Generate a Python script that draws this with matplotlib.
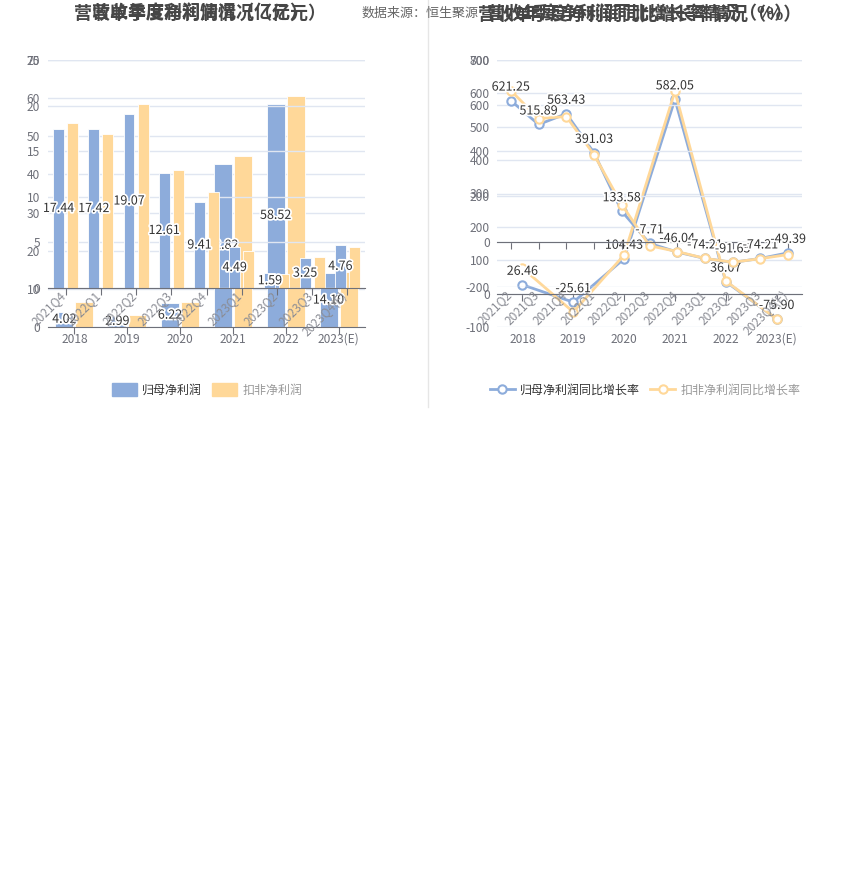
import matplotlib
matplotlib.use('Agg')
import matplotlib.pyplot as plt
import matplotlib.patheffects as pe
from matplotlib.lines import Line2D
from matplotlib.patches import Patch
import numpy as np

plt.rcParams['font.family'] = ['Noto Sans CJK SC', 'DejaVu Sans']

# categories
years = ['2018', '2019', '2020', '2021', '2022', '2023(E)']
quarters_bar = ['2021Q4', '2022Q1', '2022Q2', '2022Q3', '2022Q4',
                '2023Q1', '2023Q2', '2023Q3', '2023Q4(E)']
quarters_line = ['2021Q2', '2021Q3', '2021Q4', '2022Q1', '2022Q2', '2022Q3',
                 '2022Q4', '2023Q1', '2023Q2', '2023Q3', '2023Q4(E)']

# profit (亿元)
profit_year = [4.02, 2.99, 6.22, 42.82, 58.52, 14.10]
deducted_year = [6.55, 3.15, 6.55, 44.8, 60.6, 14.5]
profit_q = [17.44, 17.42, 19.07, 12.61, 9.41, 4.49, 1.59, 3.25, 4.76]
deducted_q = [18.1, 16.9, 20.2, 12.9, 10.5, 4.05, 1.5, 3.4, 4.5]

# growth (%)
growth_year = [26.46, -25.61, 104.43, 582.05, 36.07, -75.90]
deducted_growth_year = [76.6, -55.0, 115.6, 606.0, 38.0, -76.0]
growth_q = [621.25, 515.89, 563.43, 391.03, 133.58, -7.71, -46.04,
            -74.21, -91.65, -74.21, -49.39]
deducted_growth_q = [665, 542, 551, 383, 163, -18, -44, -74, -91, -75, -57]

BLUE = '#8DACDB'
ORANGE = '#FFD899'
GRID = '#E0E6F1'
AXIS = '#6E7079'
GRAY = '#6E7079'
W, H = 850, 890
PX = 72 / 100  # points per pixel

fig = plt.figure(figsize=(W / 100, H / 100), dpi=100)


def px_axes(x0, y0, x1, y1):
    return fig.add_axes([x0 / W, 1 - y1 / H, (x1 - x0) / W, (y1 - y0) / H])


def style_axes(ax, n, lo, hi, step, pad):
    ax.set_xlim(-0.5, n - 0.5)
    ax.set_ylim(lo, hi)
    ax.patch.set_alpha(0)
    for s in ['top', 'right', 'left']:
        ax.spines[s].set_visible(False)
    ax.spines['bottom'].set_position(('data', 0))
    ax.spines['bottom'].set_color(AXIS)
    ticks = np.arange(lo, hi + step / 2, step)
    ax.set_yticks(ticks)
    ax.set_yticklabels([str(int(t)) for t in ticks])
    ax.tick_params(axis='y', length=0, pad=pad, labelsize=12 * PX, labelcolor=GRAY)
    ax.grid(axis='y', color=GRID, lw=1)
    ax.set_axisbelow(True)
    ax.set_xticks(range(n))
    ax.tick_params(axis='x', length=5, color=AXIS, labelbottom=False)


def year_labels(ax, labels):
    for i, lab in enumerate(labels):
        ax.annotate(lab, xy=(i, 0), xycoords=('data', 'axes fraction'),
                    xytext=(0, -6 * PX), textcoords='offset points',
                    ha='center', va='top', fontsize=12 * PX, color=GRAY)


def quarter_labels(ax, labels):
    for i, lab in enumerate(labels):
        ax.annotate(lab, xy=(i, 0), xycoords=('data', 'axes fraction'),
                    xytext=(3 * PX, -1 * PX), textcoords='offset points',
                    ha='right', va='top', rotation=45, fontsize=12 * PX,
                    color='#8A8C94')


stroke = [pe.withStroke(linewidth=2.5, foreground='white')]

# ---------------- left: profit bars ----------------
ax_y = px_axes(48, 60, 365, 327)
style_axes(ax_y, len(years), 0, 70, 10, 8 * PX)
x = np.arange(len(years))
ax_y.bar(x - 0.19, profit_year, 0.34, color=BLUE, edgecolor='white', lw=0.6)
ax_y.bar(x + 0.19, deducted_year, 0.34, color=ORANGE, edgecolor='white', lw=0.6)
for i, v in enumerate(profit_year):
    ax_y.text(i - 0.19, v / 2, f'{v:.2f}', ha='center', va='center',
              fontsize=12.5 * PX, color='#333333', path_effects=stroke)
year_labels(ax_y, years)

ax_q = px_axes(48, 60, 365, 288)
style_axes(ax_q, len(quarters_bar), 0, 25, 5, 8 * PX)
xq = np.arange(len(quarters_bar))
ax_q.bar(xq - 0.2, profit_q, 0.31, color=BLUE, edgecolor='white', lw=0.6)
ax_q.bar(xq + 0.2, deducted_q, 0.31, color=ORANGE, edgecolor='white', lw=0.6)
for i, v in enumerate(profit_q):
    ax_q.text(i - 0.2, v / 2, f'{v:.2f}', ha='center', va='center',
              fontsize=12.5 * PX, color='#333333', path_effects=stroke)
quarter_labels(ax_q, quarters_bar)

# ---------------- right: growth lines ----------------
line_kw = dict(lw=2, marker='o', markersize=6, markerfacecolor='white',
               markeredgewidth=1.5)

ax_gy = px_axes(497, 60, 802, 327)
style_axes(ax_gy, len(years), -100, 700, 100, 7 * PX)
ax_gy.plot(x, growth_year, color=BLUE, **line_kw)
ax_gy.plot(x, deducted_growth_year, color=ORANGE, **line_kw)
for i, v in enumerate(growth_year):
    ax_gy.annotate(f'{v:.2f}', xy=(i, v), xytext=(0, 7 * PX),
                   textcoords='offset points', ha='center', va='bottom',
                   fontsize=12.5 * PX, color='#333333', path_effects=stroke)
year_labels(ax_gy, years)

ax_gq = px_axes(497, 60, 802, 287)
style_axes(ax_gq, len(quarters_line), -200, 800, 200, 7 * PX)
xl = np.arange(len(quarters_line))
ax_gq.plot(xl, growth_q, color=BLUE, **line_kw)
ax_gq.plot(xl, deducted_growth_q, color=ORANGE, **line_kw)
for i, v in enumerate(growth_q):
    ax_gq.annotate(f'{v:.2f}', xy=(i, v), xytext=(0, 7 * PX),
                   textcoords='offset points', ha='center', va='bottom',
                   fontsize=12.5 * PX, color='#333333', path_effects=stroke)
quarter_labels(ax_gq, quarters_line)

# ---------------- titles, source, legends ----------------
title_kw = dict(ha='center', va='center', fontsize=18 * PX, fontweight='bold',
                color='#464646')
fig.text(362 / W, 1 - 13 / H, '数据来源：恒生聚源', ha='left', va='center',
         fontsize=13 * PX, color='#666666')
fig.text(200 / W, 1 - 14 / H, '营收年度利润情况（亿元）', **title_kw)
fig.text(200 / W, 1 - 14 / H, '营收单季度净利润情况（亿元）', **title_kw)
fig.text(640 / W, 1 - 14 / H, '营收年度净利润同比增长率情况（%）', **title_kw)
fig.text(640 / W, 1 - 14 / H, '营收单季度净利润同比增长率情况（%）', **title_kw)

leg_kw = dict(loc='center', ncol=2, frameon=False, fontsize=12 * PX,
              handletextpad=0.42, columnspacing=0.9)
leg1 = fig.legend([Patch(color=BLUE), Patch(color=ORANGE)],
                  ['归母净利润', '扣非净利润'],
                  bbox_to_anchor=(207 / W, 1 - 390 / H),
                  handlelength=2.08, handleheight=1.17, **leg_kw)
leg2 = fig.legend([Line2D([], [], color=BLUE, **line_kw),
                   Line2D([], [], color=ORANGE, **line_kw)],
                  ['归母净利润同比增长率', '扣非净利润同比增长率'],
                  bbox_to_anchor=(645 / W, 1 - 390 / H),
                  handlelength=2.08, **leg_kw)
for leg in (leg1, leg2):
    leg.get_texts()[0].set_color('#333333')
    leg.get_texts()[1].set_color('#999999')

fig.add_artist(Line2D([428 / W, 428 / W], [1, 1 - 407 / H],
                      color='#E6E6E6', lw=1, transform=fig.transFigure))

fig.savefig('out.png', dpi=100, facecolor='white')
